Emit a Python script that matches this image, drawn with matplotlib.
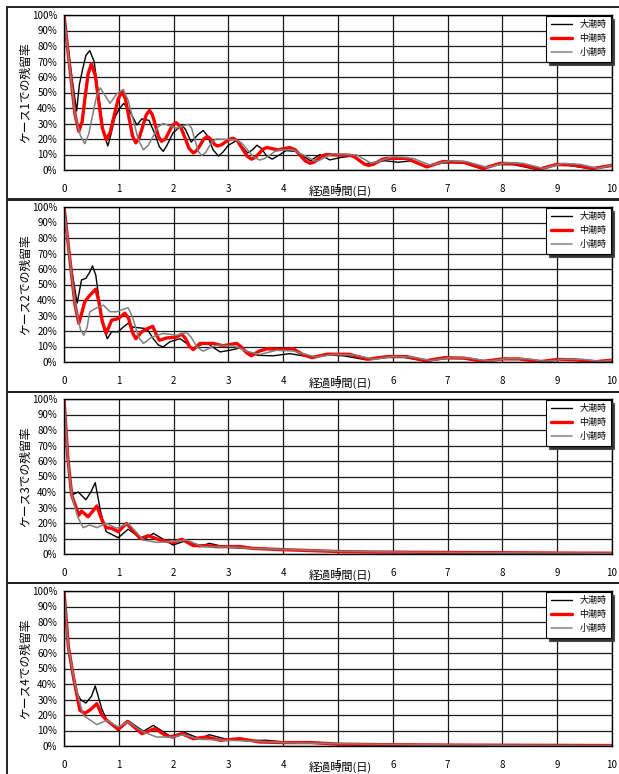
import matplotlib
matplotlib.use("Agg")
import matplotlib.pyplot as plt
from matplotlib.patches import Rectangle

plt.rcParams['font.family'] = ['Noto Sans CJK JP', 'DejaVu Sans']

# ------ data (days, residual %) ------

series_names = ["大潮時", "中潮時", "小潮時"]
y_ticks = [0, 10, 20, 30, 40, 50, 60, 70, 80, 90, 100]
y_tick_labels = ["0%", "10%", "20%", "30%", "40%", "50%", "60%", "70%", "80%", "90%", "100%"]
x_ticks = [0, 1, 2, 3, 4, 5, 6, 7, 8, 9, 10]
panel_labels = ["ケース1での残留率", "ケース2での残留率", "ケース3での残留率", "ケース4での残留率"]

# case 1
c1_spring_x = [0, 0.12, 0.23, 0.28, 0.34, 0.40, 0.47, 0.55, 0.635, 0.72, 0.80, 0.85, 0.93, 1.0, 1.09, 1.2, 1.33, 1.42, 1.55, 1.65, 1.74, 1.81, 1.88, 1.99, 2.15, 2.22, 2.32, 2.45, 2.54, 2.62, 2.72, 2.82, 2.9, 3.0, 3.15, 3.25, 3.35, 3.44, 3.52, 3.6, 3.7, 3.8, 3.92, 4.05, 4.25, 4.38, 4.5, 4.67, 4.85, 5.04, 5.25, 5.5, 5.85, 6.1, 6.35, 6.6, 6.9, 7.1, 7.3, 7.6, 7.9, 8.2, 8.6, 8.9, 9.2, 9.6, 10]
c1_spring_y = [100, 66, 38, 55, 65, 74, 77, 70, 47, 24, 15.5, 22, 34, 39, 43, 38, 29, 33, 32, 24, 15, 12, 16, 24, 29, 26, 18, 23, 25.5, 22, 13, 9, 11.5, 16, 19, 15, 11, 13, 16, 14, 9, 7, 9.5, 12.5, 12, 8.5, 6, 10, 6.5, 8, 9, 4, 6, 5, 6, 2, 4.5, 4.7, 4.5, 1, 3.5, 3.5, 0.5, 3, 3, 0.8, 2.5]
c1_mid_x = [0, 0.2, 0.27, 0.33, 0.385, 0.44, 0.5, 0.57, 0.635, 0.70, 0.77, 0.84, 0.915, 0.99, 1.06, 1.12, 1.185, 1.25, 1.31, 1.37, 1.435, 1.50, 1.56, 1.615, 1.67, 1.725, 1.78, 1.85, 1.915, 1.98, 2.05, 2.13, 2.205, 2.28, 2.36, 2.42, 2.485, 2.55, 2.61, 2.66, 2.705, 2.75, 2.80, 2.87, 2.945, 3.02, 3.09, 3.17, 3.255, 3.34, 3.42, 3.49, 3.56, 3.63, 3.70, 3.9, 4.12, 4.22, 4.31, 4.40, 4.49, 4.57, 4.64, 4.72, 4.79, 5.22, 5.3, 5.39, 5.48, 5.56, 5.64, 5.73, 5.81, 5.89, 6.25, 6.62, 6.92, 7.29, 7.65, 7.96, 8.26, 8.69, 8.99, 9.30, 9.66, 10.0]
c1_mid_y = [100, 36, 25, 31, 47, 62, 68.5, 61, 44, 27, 19.5, 24, 35, 46, 50.5, 46, 34, 22, 17.5, 20.5, 28, 35.5, 38.5, 35.5, 28.5, 21.5, 18.5, 20, 24.5, 29, 30.5, 27.7, 21, 14, 11, 12.5, 16, 20, 21.5, 20.6, 18.5, 16.5, 15.5, 16.2, 18, 19.8, 20.5, 18.5, 13.8, 9, 7, 8.1, 10.7, 13.4, 14.5, 13, 14.5, 13, 9.5, 6, 4.3, 5.2, 7.2, 9.3, 10, 9.5, 8.5, 6.2, 3.8, 3, 3.6, 5.3, 6.9, 7.5, 7.5, 2, 5.5, 5, 1, 4.3, 4, 0.6, 3.6, 3.2, 1, 3]
c1_neap_x = [0, 0.2, 0.3, 0.38, 0.45, 0.52, 0.59, 0.66, 0.75, 0.84, 0.96, 1.08, 1.17, 1.265, 1.36, 1.45, 1.54, 1.63, 1.72, 1.81, 2.05, 2.27, 2.33, 2.39, 2.45, 2.51, 2.58, 2.645, 2.71, 2.78, 3.13, 3.24, 3.35, 3.46, 3.57, 3.66, 3.76, 3.85, 3.94, 4.18, 4.61, 4.9, 5.34, 5.61, 6.01, 6.37, 6.68, 7.05, 7.35, 7.72, 8.08, 8.38, 8.75, 9.11, 9.42, 9.75, 10]
c1_neap_y = [100, 36, 22, 17, 23, 35, 47, 53, 48, 43, 49, 52, 45, 32, 19, 13, 16, 22, 28, 30, 27, 29.5, 27, 19, 12, 9.5, 11, 15, 18.5, 20, 19.5, 17.5, 13, 8.4, 6.4, 7.4, 9.7, 12, 13, 13, 5.4, 10.5, 9.7, 4.3, 8.6, 7.5, 3.2, 6, 5.4, 1.7, 4.7, 4.3, 1, 4.3, 3.6, 1, 3.2]

# case 2
c2_spring_x = [0, 0.12, 0.24, 0.32, 0.40, 0.47, 0.52, 0.58, 0.66, 0.73, 0.79, 0.87, 0.99, 1.08, 1.17, 1.26, 1.51, 1.63, 1.72, 1.81, 1.93, 2.12, 2.22, 2.33, 2.46, 2.6, 2.72, 2.85, 3.03, 3.21, 3.38, 3.54, 3.82, 4.12, 4.49, 4.8, 5.1, 5.5, 5.9, 6.2, 6.6, 7.0, 7.3, 7.6, 8.0, 8.3, 8.7, 9.0, 9.3, 9.7, 10]
c2_spring_y = [100, 64, 38, 53, 54, 58, 62, 56, 35, 21, 15, 19.5, 19.5, 22.5, 25, 22.5, 21.5, 15, 11, 9.7, 13, 15, 12.5, 8.5, 10.5, 12.5, 9.5, 6.5, 7.6, 9, 6.3, 4.3, 4, 5.4, 3.2, 4.5, 4, 1.5, 3, 3, 0.6, 2.3, 2.3, 0.4, 1.8, 1.8, 0.3, 1.4, 1.4, 0.2, 1]
c2_mid_x = [0, 0.2, 0.27, 0.32, 0.38, 0.47, 0.58, 0.63, 0.70, 0.77, 0.87, 0.99, 1.11, 1.18, 1.25, 1.31, 1.42, 1.52, 1.62, 1.68, 1.74, 1.87, 2.05, 2.15, 2.22, 2.29, 2.36, 2.48, 2.72, 2.9, 3.15, 3.24, 3.33, 3.42, 3.56, 3.70, 4.0, 4.18, 4.35, 4.52, 4.8, 5.2, 5.55, 5.9, 6.25, 6.6, 6.95, 7.3, 7.65, 8.0, 8.3, 8.7, 9.0, 9.3, 9.7, 10]
c2_mid_y = [100, 37, 25, 31, 39, 43, 47, 40, 26, 18.5, 27, 28, 31.5, 28, 19, 15, 19.5, 21.5, 23, 18, 14, 15.5, 16, 18, 15, 10, 8, 12, 12, 10.5, 12, 9.5, 6, 4, 7, 8.5, 8, 8.5, 5, 2.8, 5, 5, 1.8, 3.5, 3.5, 0.8, 2.8, 2.5, 0.4, 2, 2, 0.3, 1.6, 1.5, 0.2, 1.2]
c2_neap_x = [0, 0.2, 0.3, 0.36, 0.42, 0.47, 0.6, 0.72, 0.84, 0.96, 1.08, 1.17, 1.25, 1.36, 1.45, 1.6, 1.81, 2.05, 2.24, 2.32, 2.43, 2.54, 2.66, 2.78, 3.09, 3.33, 3.57, 3.88, 4.18, 4.6, 4.95, 5.3, 5.65, 6.0, 6.35, 6.7, 7.05, 7.4, 7.75, 8.1, 8.45, 8.8, 9.15, 9.5, 9.8, 10]
c2_neap_y = [100, 37, 21, 17.3, 22, 32.4, 35, 36.7, 32.4, 32.4, 34, 35, 29, 16, 12, 16, 18.4, 17.3, 19, 16, 9.5, 7, 9, 10.8, 10.4, 7, 4.8, 7.6, 7.1, 3.2, 5, 4.5, 1.8, 3.5, 3.2, 0.9, 2.8, 2.5, 0.6, 2.2, 2, 0.4, 1.8, 1.6, 0.3, 1.2]

# case 3
c3_spring_x = [0, 0.07, 0.14, 0.26, 0.4, 0.49, 0.57, 0.67, 0.77, 0.99, 1.17, 1.45, 1.63, 1.99, 2.21, 2.48, 2.65, 2.97, 3.3, 3.7, 4.0, 4.5, 5.0, 6.0, 7.0, 8.0, 9.0, 10.0]
c3_spring_y = [100, 62, 38, 40, 35, 40, 46, 27, 14.4, 10.5, 16, 9, 13.3, 5.8, 8.4, 4.7, 6.9, 4.3, 3.6, 3.2, 2.9, 2.4, 1.8, 1.3, 1, 0.8, 0.6, 0.5]
c3_mid_x = [0, 0.07, 0.14, 0.27, 0.32, 0.44, 0.6, 0.69, 0.77, 0.87, 0.99, 1.14, 1.39, 1.54, 1.75, 1.99, 2.15, 2.36, 2.6, 2.78, 3.21, 3.45, 4.0, 4.5, 5.0, 5.5, 6.0, 7.0, 8.0, 9.0, 10.0]
c3_mid_y = [100, 62, 38, 25, 27.7, 24, 31, 22, 17, 16.6, 14.4, 19.8, 10, 11.8, 9, 7.5, 9.5, 5.4, 5.4, 4.7, 4.8, 3.6, 2.8, 2.2, 1.6, 1.3, 1.2, 1, 0.8, 0.6, 0.5]
c3_neap_x = [0, 0.07, 0.14, 0.25, 0.35, 0.47, 0.6, 0.77, 0.96, 1.17, 1.45, 1.69, 1.99, 2.24, 2.54, 3.0, 3.5, 4.0, 4.5, 5.0, 6.0, 7.0, 8.0, 9.0, 10.0]
c3_neap_y = [100, 62, 38, 24, 17, 18.7, 17, 19.8, 16.6, 19.8, 9, 7.5, 8, 9, 4.7, 4.5, 3.5, 3, 2.4, 1.8, 1.3, 1, 0.8, 0.6, 0.5]

# case 4
c4_spring_x = [0, 0.08, 0.2, 0.3, 0.4, 0.5, 0.57, 0.69, 0.78, 0.99, 1.17, 1.45, 1.63, 1.93, 2.21, 2.48, 2.65, 2.97, 3.3, 3.7, 4.0, 4.5, 5.0, 6.0, 7.0, 8.0, 9.0, 10.0]
c4_spring_y = [100, 62, 37, 30, 27.7, 32, 38.7, 24, 16.6, 10, 16.3, 9.5, 13.3, 6.5, 8.6, 4.7, 7.3, 4.3, 3.5, 3.7, 2.6, 2, 1.5, 1, 0.7, 0.5, 0.4, 0.3]
c4_mid_x = [0, 0.08, 0.17, 0.29, 0.38, 0.5, 0.6, 0.69, 0.78, 0.99, 1.16, 1.42, 1.66, 1.87, 1.99, 2.15, 2.36, 2.6, 2.85, 3.21, 3.57, 4.0, 4.5, 5.0, 6.0, 7.0, 8.0, 9.0, 10.0]
c4_mid_y = [100, 64, 45, 23, 21, 24, 27.3, 20, 16.6, 10.8, 15.9, 8, 11.2, 6.5, 5.8, 8, 4.7, 5.8, 3.7, 4.7, 2.6, 2.2, 2.2, 1.2, 0.8, 0.6, 0.5, 0.4, 0.3]
c4_neap_x = [0, 0.08, 0.2, 0.35, 0.6, 0.78, 0.99, 1.17, 1.45, 1.69, 1.99, 2.18, 2.48, 3.0, 3.5, 4.0, 4.5, 5.0, 6.0, 7.0, 8.0, 9.0, 10.0]
c4_neap_y = [100, 64, 40, 19.8, 13.8, 16.6, 12.3, 15.5, 9, 5.8, 5.8, 7.3, 4.3, 3.7, 3, 2.2, 1.8, 1.5, 1, 0.7, 0.5, 0.4, 0.3]

cases = [
    [(c1_spring_x, c1_spring_y), (c1_mid_x, c1_mid_y), (c1_neap_x, c1_neap_y)],
    [(c2_spring_x, c2_spring_y), (c2_mid_x, c2_mid_y), (c2_neap_x, c2_neap_y)],
    [(c3_spring_x, c3_spring_y), (c3_mid_x, c3_mid_y), (c3_neap_x, c3_neap_y)],
    [(c4_spring_x, c4_spring_y), (c4_mid_x, c4_mid_y), (c4_neap_x, c4_neap_y)],
]

# ------ styles / layout ------
W, H = 619, 774
colors = ["#000000", "#ff0000", "#808080"]
widths = [1.0, 2.4, 1.1]
plot_tops = [15, 207, 399, 591]      # pixel y of 100%
plot_h = 155
plot_left, plot_right = 64, 612
frames = [(7, 199), (200, 392), (392, 583), (583, 790)]

fig = plt.figure(figsize=(W / 100, H / 100), dpi=100)

for (ft, fb) in frames:
    fig.patches.append(Rectangle((7 / W, 1 - fb / H), 1.0, (fb - ft) / H,
                                 transform=fig.transFigure, fill=False,
                                 edgecolor="#222222", linewidth=1.4))

for i, data in enumerate(cases):
    top = plot_tops[i]
    ax = fig.add_axes([plot_left / W, 1 - (top + plot_h) / H,
                       (plot_right - plot_left) / W, plot_h / H])
    for j, (xs, ys) in enumerate(data):
        ax.plot(xs, ys, color=colors[j], lw=widths[j], label=series_names[j],
                solid_joinstyle="round", solid_capstyle="round")
    ax.set_xlim(0, 10)
    ax.set_ylim(0, 100)
    ax.set_xticks(x_ticks)
    ax.set_yticks(y_ticks)
    ax.set_yticklabels(y_tick_labels)
    ax.tick_params(length=0, labelsize=7)
    ax.tick_params(axis="x", pad=10)
    ax.tick_params(axis="y", pad=5)
    ax.grid(True, color="#1a1a1a", lw=0.9)
    ax.set_axisbelow(True)
    for s in ax.spines.values():
        s.set_color("black")
        s.set_linewidth(1.0)
    ax.set_ylabel(panel_labels[i], fontsize=8.5)
    ax.yaxis.set_label_coords(-0.058, 0.5)
    ax.set_xlabel("経過時間(日)", fontsize=8)
    ax.xaxis.set_label_coords(0.504, -0.1)
    leg = ax.legend(loc="upper right", fontsize=6.5, frameon=True, fancybox=False,
                    shadow={"facecolor": "#333333", "alpha": 1.0, "ox": 2, "oy": -2},
                    borderaxespad=0.1, handlelength=2.4,
                    labelspacing=0.55, borderpad=0.5)
    leg.get_frame().set_edgecolor("black")
    leg.get_frame().set_linewidth(0.8)

fig.savefig("out.png", dpi=100)
